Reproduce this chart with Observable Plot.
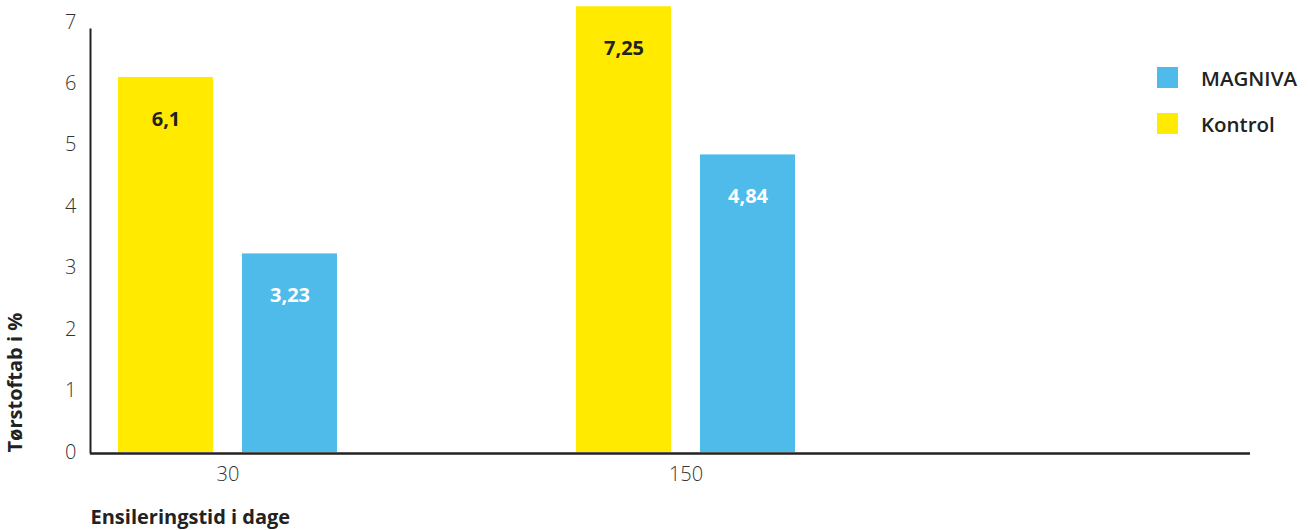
<!DOCTYPE html>
<html>
<head>
<meta charset="utf-8">
<script src="https://cdn.jsdelivr.net/npm/d3@7"></script>
<script src="https://cdn.jsdelivr.net/npm/@observablehq/plot@0.6"></script>
<style>
  html, body { margin: 0; padding: 0; background: #fff; }
  #wrap { position: relative; width: 1308px; height: 530px; font-family: "Open Sans", sans-serif; }
  #legend { position: absolute; left: 1157px; top: 67px; }
  .item { display: flex; align-items: center; height: 21px; margin-bottom: 25px; }
  .sw { width: 21px; height: 21px; margin-right: 23px; }
  .lab { font-size: 20.5px; font-weight: 600; color: #222; }
  g[aria-label="y-axis tick label"] text, g[aria-label="x-axis tick label"] text { font-weight: 300; fill: #333; }
</style>
</head>
<body>
<div id="wrap"><div id="chart"></div><div id="legend"></div></div>
<script>
// ---- data ----
const days = ["30", "150"];
const seriesNames = ["MAGNIVA", "Kontrol"];
const kontrolValues = [6.1, 7.25];
const magnivaValues = [3.23, 4.84];
const yTicks = [0, 1, 2, 3, 4, 5, 6, 7];
const colors = { MAGNIVA: "#4fbbeb", Kontrol: "#ffea00" };
const yLabel = "Tørstoftab i %";
const xLabel = "Ensileringstid i dage";

const table = days.map((d, i) => ({ day: d, Kontrol: kontrolValues[i], MAGNIVA: magnivaValues[i] }));
const fmt = v => String(v).replace(".", ",");

const chart = Plot.plot({
  width: 1308,
  height: 530,
  marginLeft: 90,
  marginRight: 58,
  marginTop: 29,
  marginBottom: 78,
  style: { fontFamily: "Open Sans, sans-serif", fontSize: "20px", color: "#333", background: "#fff" },
  x: { domain: days, paddingInner: 0.522, paddingOuter: 0.527, align: 0.057, label: null, tickSize: 0, tickPadding: 14 },
  y: { domain: [0, 6.88], ticks: yTicks, tickFormat: d3.format("d"), label: null, tickSize: 0, tickPadding: 14 },
  marks: [
    Plot.barY(table, { x: "day", y: "Kontrol", fill: colors.Kontrol, insetRight: 124 }),
    Plot.barY(table, { x: "day", y: "MAGNIVA", fill: colors.MAGNIVA, insetLeft: 124 }),
    Plot.text(table, { x: "day", y: "Kontrol", text: d => fmt(d.Kontrol), dx: -62, dy: 42, fill: "#222", fontWeight: "bold", fontSize: 20 }),
    Plot.text(table, { x: "day", y: "MAGNIVA", text: d => fmt(d.MAGNIVA), dx: 62, dy: 42, fill: "#fff", fontWeight: "bold", fontSize: 20 }),
    Plot.frame({ anchor: "left", stroke: "#222", strokeWidth: 2 }),
    Plot.ruleY([0], { stroke: "#222", strokeWidth: 2.5, dy: 1 }),
    Plot.text([yLabel], { frameAnchor: "bottom-left", rotate: -90, textAnchor: "start", dx: -69, fill: "#222", fontWeight: "bold", fontSize: 20 }),
    Plot.text([xLabel], { frameAnchor: "bottom-left", textAnchor: "start", dy: 71, fill: "#222", fontWeight: "bold", fontSize: 20 })
  ]
});
document.getElementById("chart").appendChild(chart);

const legend = document.getElementById("legend");
for (const s of seriesNames) {
  const it = document.createElement("div");
  it.className = "item";
  it.innerHTML = `<div class="sw" style="background:${colors[s]}"></div><div class="lab">${s}</div>`;
  legend.appendChild(it);
}
</script>
</body>
</html>
